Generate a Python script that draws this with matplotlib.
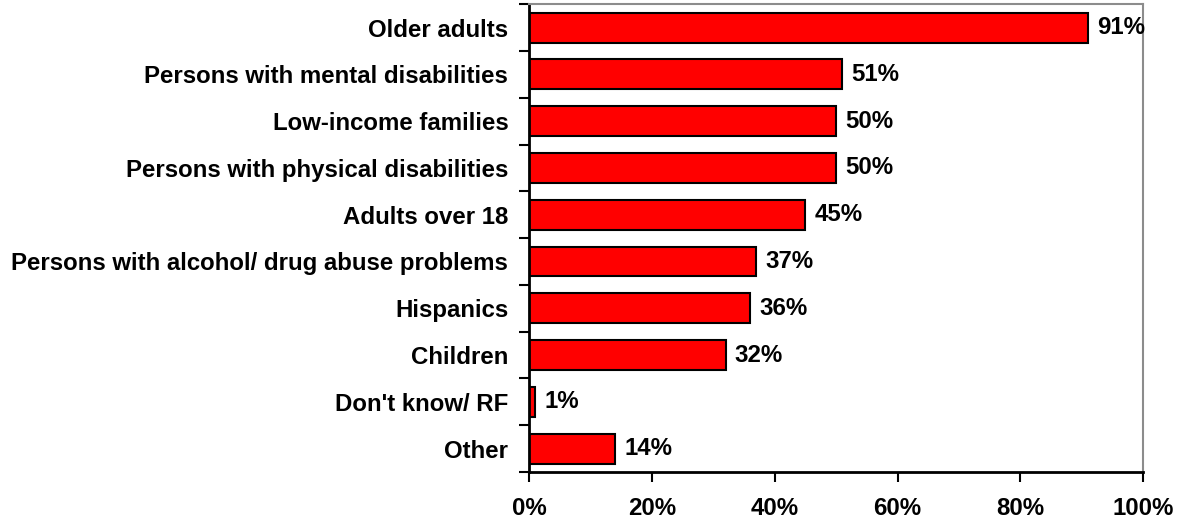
import numpy as np
import matplotlib.pyplot as plt
from matplotlib.ticker import FixedLocator, PercentFormatter

categories = [
    "Older adults",
    "Persons with mental disabilities",
    "Low-income families",
    "Persons with physical disabilities",
    "Adults over 18",
    "Persons with alcohol/ drug abuse problems",
    "Hispanics",
    "Children",
    "Don't know/ RF",
    "Other",
]
values = [91, 51, 50, 50, 45, 37, 36, 32, 1, 14]
x_ticks = [0, 20, 40, 60, 80, 100]

plt.rcParams['font.family'] = ['Liberation Sans', 'DejaVu Sans']
plt.rcParams['font.weight'] = 'bold'
FS = 17.3

fig = plt.figure(figsize=(11.81, 5.23), dpi=100)
ax = fig.add_axes([0.448, 0.0975, 0.52, 0.8945])

n = len(categories)
pos = np.arange(n)
ax.barh(pos, values, height=0.64, color='#ff0000', edgecolor='black', linewidth=1.5)

for p, v in zip(pos, values):
    ax.text(v + 1.5, p, f"{v}%", va='center', ha='left', fontsize=FS, fontweight='bold')

ax.set_xlim(0, 100)
ax.set_ylim(n - 0.5, -0.5)

# category labels sit between the boundary ticks
ax.yaxis.set_major_locator(FixedLocator(np.arange(n + 1) - 0.5))
ax.yaxis.set_major_formatter(plt.NullFormatter())
ax.yaxis.set_minor_locator(FixedLocator(pos))
ax.set_yticklabels(categories, minor=True, fontsize=FS, fontweight='bold')
ax.tick_params(axis='y', which='major', direction='out', length=7, width=1.5)
ax.tick_params(axis='y', which='minor', length=0, pad=15)

ax.set_xticks(x_ticks)
ax.xaxis.set_major_formatter(PercentFormatter(decimals=0))
ax.tick_params(axis='x', direction='out', length=7, width=1.5, pad=11, labelsize=FS)
for lbl in ax.get_xticklabels():
    lbl.set_fontweight('bold')

for side in ['left', 'bottom']:
    ax.spines[side].set_linewidth(2)
    ax.spines[side].set_color('black')
for side in ['top', 'right']:
    ax.spines[side].set_linewidth(1.5)
    ax.spines[side].set_color('#8c8c8c')

fig.savefig('out.png', dpi=100)
